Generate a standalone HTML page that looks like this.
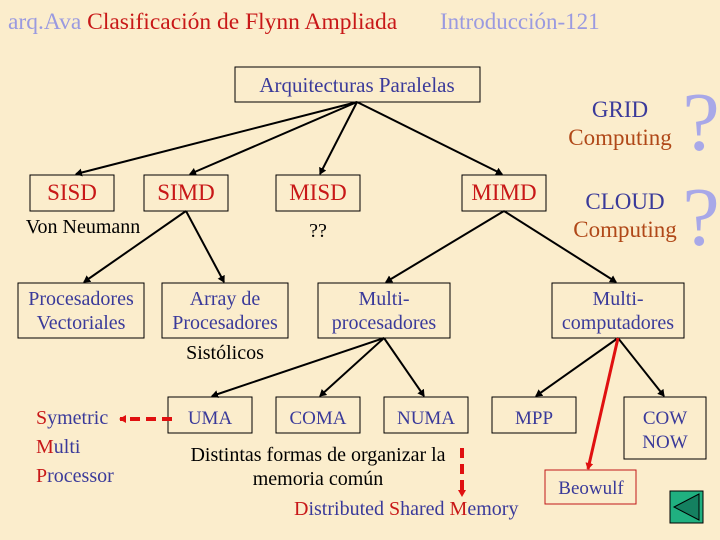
<!DOCTYPE html>
<html><head><meta charset="utf-8"><style>
html,body{margin:0;padding:0;background:#fbedcc;}
svg, svg text{font-family:"Liberation Serif","DejaVu Serif",serif;}
</style></head><body>
<svg width="720" height="540" viewBox="0 0 720 540" xmlns="http://www.w3.org/2000/svg" style="display:block">
<defs>
<marker id="a" markerWidth="8" markerHeight="8" refX="6" refY="4" orient="auto" markerUnits="userSpaceOnUse"><path d="M0,0 L7,4 L0,8 z" fill="#000"/></marker>
<marker id="r" markerWidth="8" markerHeight="8" refX="6" refY="4" orient="auto" markerUnits="userSpaceOnUse"><path d="M0,0 L7,4 L0,8 z" fill="#e01010"/></marker>
</defs>
<rect width="720" height="540" fill="#fbedcc"/>
<g font-family="Liberation Serif, serif">
<text x="8" y="29" font-size="23.5" fill="#9a9ae0">arq.Ava <tspan fill="#c81818">Clasificación de Flynn Ampliada</tspan></text>
<text x="440" y="29" font-size="23" fill="#9a9ae0">Introducción-121</text>

<g fill="none" stroke="#000" stroke-width="1">
<rect x="235" y="67" width="245" height="35"/>
<rect x="30" y="175" width="84" height="36"/>
<rect x="144" y="175" width="84" height="36"/>
<rect x="276" y="175" width="84" height="36"/>
<rect x="462" y="175" width="84" height="36"/>
<rect x="18" y="283" width="126" height="55"/>
<rect x="162" y="283" width="126" height="55"/>
<rect x="318" y="283" width="132" height="55"/>
<rect x="552" y="283" width="132" height="55"/>
<rect x="168" y="397" width="84" height="36"/>
<rect x="276" y="397" width="84" height="36"/>
<rect x="384" y="397" width="84" height="36"/>
<rect x="492" y="397" width="84" height="36"/>
<rect x="624" y="397" width="82" height="62"/>
</g>
<rect x="545" y="470" width="91" height="34" fill="none" stroke="#c01818"/>

<g stroke="#000" stroke-width="2" marker-end="url(#a)">
<line x1="357" y1="102" x2="76" y2="174"/>
<line x1="357" y1="102" x2="190" y2="174"/>
<line x1="357" y1="102" x2="320" y2="174"/>
<line x1="357" y1="102" x2="502" y2="174"/>
<line x1="186" y1="211" x2="84" y2="282"/>
<line x1="186" y1="211" x2="224" y2="282"/>
<line x1="504" y1="211" x2="386" y2="282"/>
<line x1="504" y1="211" x2="616" y2="282"/>
<line x1="384" y1="338" x2="212" y2="396"/>
<line x1="384" y1="338" x2="320" y2="396"/>
<line x1="384" y1="338" x2="424" y2="396"/>
<line x1="618" y1="338" x2="536" y2="396"/>
<line x1="618" y1="338" x2="664" y2="396"/>
</g>
<line x1="618" y1="338" x2="588" y2="469" stroke="#e01010" stroke-width="3" marker-end="url(#r)"/>
<line x1="172" y1="419" x2="120" y2="419" stroke="#e01010" stroke-width="4" stroke-dasharray="10,6" marker-end="url(#r)"/>
<line x1="462" y1="448" x2="462" y2="496" stroke="#e01010" stroke-width="4" stroke-dasharray="10,6" marker-end="url(#r)"/>

<g font-size="21" text-anchor="middle" fill="#3a3a9a">
<text x="357" y="92">Arquitecturas Paralelas</text>
</g>
<g font-size="23" text-anchor="middle" fill="#c81818">
<text x="72" y="200">SISD</text><text x="186" y="200">SIMD</text>
<text x="318" y="200">MISD</text><text x="504" y="200">MIMD</text>
</g>
<g font-size="20" text-anchor="middle" fill="#3a3a9a">
<text x="81" y="305">Procesadores</text><text x="81" y="329">Vectoriales</text>
<text x="225" y="305">Array de</text><text x="225" y="329">Procesadores</text>
<text x="384" y="305">Multi-</text><text x="384" y="329">procesadores</text>
<text x="618" y="305">Multi-</text><text x="618" y="329">computadores</text>
<text x="210" y="424" font-size="19">UMA</text><text x="318" y="424" font-size="19">COMA</text>
<text x="426" y="424" font-size="19">NUMA</text><text x="534" y="424" font-size="19">MPP</text>
<text x="665" y="424" font-size="19">COW</text><text x="665" y="448" font-size="19">NOW</text>
<text x="591" y="494" font-size="19">Beowulf</text>
</g>
<g font-size="20" fill="#000" text-anchor="middle">
<text x="83" y="233">Von Neumann</text>
<text x="318" y="237">??</text>
<text x="225" y="359">Sistólicos</text>
<text x="318" y="461">Distintas formas de organizar la</text>
<text x="318" y="485">memoria común</text>
</g>
<g font-size="20" fill="#3a3a9a">
<text x="36" y="424"><tspan fill="#c81818">S</tspan>ymetric</text>
<text x="36" y="453"><tspan fill="#c81818">M</tspan>ulti</text>
<text x="36" y="482"><tspan fill="#c81818">P</tspan>rocessor</text>
<text x="294" y="515"><tspan fill="#c81818">D</tspan>istributed <tspan fill="#c81818">S</tspan>hared <tspan fill="#c81818">M</tspan>emory</text>
</g>
<g font-size="23" text-anchor="middle">
<text x="620" y="117" fill="#3a3a9a">GRID</text>
<text x="620" y="145" fill="#b04818">Computing</text>
<text x="625" y="209" fill="#3a3a9a">CLOUD</text>
<text x="625" y="237" fill="#b04818">Computing</text>
</g>
<g font-size="84" fill="#a8a8e8" text-anchor="middle">
<text x="701" y="150">?</text>
<text x="701" y="245">?</text>
</g>
</g>
<rect x="670" y="491" width="33" height="32" fill="#20b080" stroke="#000"/>
<path d="M699,494 L674,507 L699,520 Z" fill="#148060" stroke="#000"/>
</svg>
</body></html>
